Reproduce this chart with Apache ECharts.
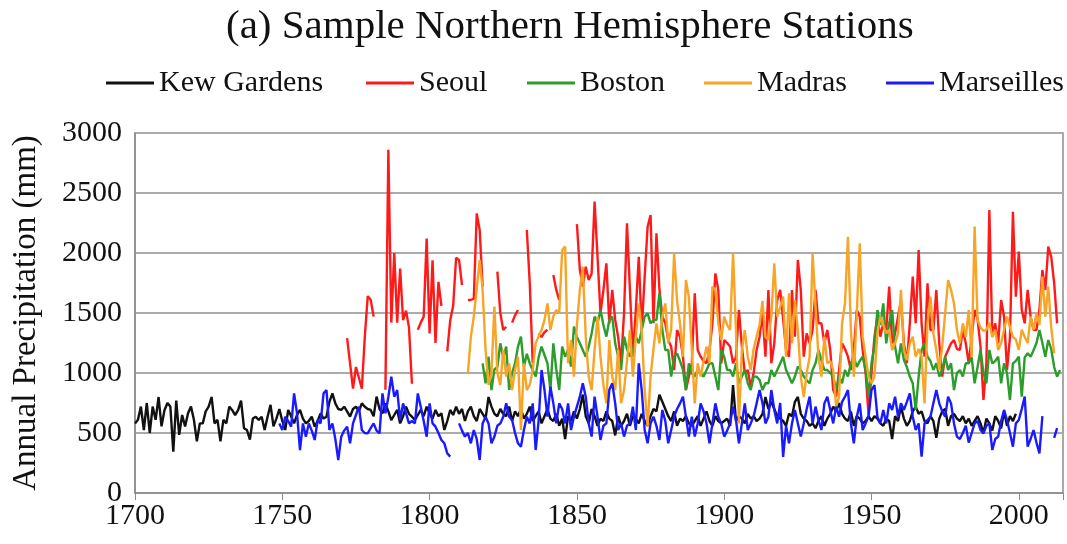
<!DOCTYPE html>
<html><head><meta charset="utf-8">
<script src="https://cdn.jsdelivr.net/npm/echarts@6/dist/echarts.min.js"></script>
<style>html,body{margin:0;padding:0;background:#fff}#c{width:1067px;height:544px}</style>
</head><body><div id="c"></div>
<script>
// ---- Data (annual precipitation, mm), one value per year from the start year ----
const seriesNames = ['Kew Gardens', 'Seoul', 'Boston', 'Madras', 'Marseilles'];
const xTicks = [1700, 1750, 1800, 1850, 1900, 1950, 2000];
const yTicks = [0, 500, 1000, 1500, 2000, 2500, 3000];

const kewStart = 1700;
const kew = [
580,610,720,525,750,500,720,610,800,555,
690,750,720,345,770,485,650,555,665,720,
610,430,580,580,680,720,800,580,610,430,
610,580,720,690,650,690,770,540,525,445,
620,635,610,635,525,635,735,555,620,700,
600,525,692,640,580,650,692,620,580,600,
636,553,600,664,620,636,760,830,747,700,
692,719,680,636,700,719,680,747,719,700,
692,640,803,700,664,747,680,608,650,692,
580,640,719,660,636,608,650,692,640,719,
664,620,692,640,664,525,600,692,650,719,
660,700,600,680,720,640,600,700,660,620,
800,720,660,640,700,660,640,720,600,680,
640,700,620,660,720,600,640,680,580,640,
700,620,600,660,560,620,450,640,600,680,
620,700,820,640,580,700,640,560,620,600,
680,620,600,480,640,560,600,660,560,640,
620,580,660,600,560,640,700,680,820,760,
700,640,600,680,560,620,600,640,580,560,
600,640,560,620,680,600,560,640,600,580,
600,620,560,900,600,640,620,580,660,620,
640,600,620,660,800,700,760,700,640,620,
600,560,660,640,760,800,660,620,600,560,
580,540,600,640,560,620,660,720,680,750,
660,620,600,680,560,640,620,580,600,640,
600,640,620,580,560,620,600,450,640,600,
720,620,560,600,680,720,660,680,600,580,
640,600,460,620,680,700,560,640,660,620,
600,640,580,620,560,600,640,580,500,620,
580,520,640,600,540,680,560,640,600,660
];

const seoulStart = 1772;
const seoul = [
1290,1080,870,1050,960,870,1300,1640,
1610,1470,null,null,null,860,2860,1420,2000,1420,
1870,1440,1520,1380,910,null,1360,1420,1470,2120,
1330,1940,1250,1760,1560,null,1180,1440,1560,1960,
1942,1733,null,1608,1608,1620,2330,2192,1720,null,
null,null,null,1845,1500,1358,1386,null,1420,1480,
1525,null,null,2192,1747,1081,null,1330,1300,1340,
1360,null,1817,1692,1608,null,null,null,null,null,
2240,1860,1720,1886,1775,1830,2428,1969,1497,1692,
1914,1414,1692,1442,1300,1081,1500,2247,1692,1136,
1525,1969,1358,1800,2219,2317,1414,2164,1700,1470,
1414,1275,1220,1025,1358,1300,1136,858,970,1081,
1664,1192,1136,1100,1081,1192,1414,1830,1692,1081,
1275,1250,1220,1081,1136,1525,1220,1000,1025,886,
1000,1192,1300,1500,1136,1692,1081,1247,1608,1692,
1450,1192,1136,1692,1303,1942,1692,1136,1330,1247,
1358,1692,1414,1414,1247,1358,1192,858,803,1025,
1247,1200,1136,1025,1192,1525,1470,1192,1000,650,
1000,1300,1469,1303,1414,1358,1720,1247,1330,1470,
1600,1247,1081,1414,1803,1414,2025,1414,1136,1747,
1358,1358,1692,1247,970,1136,1192,1247,1275,1200,
1192,1358,1247,1081,1300,1525,1450,1220,775,1081,
2358,1303,1414,1247,1608,1469,1025,1300,2344,1636,
2011,1525,1414,1692,1469,1360,1358,1525,1858,1692,
2053,1970,1750,1414
];

const bostonStart = 1818;
const boston = [
1080,914,
1136,858,1030,1050,1247,1130,1220,858,1000,1080,
1220,1303,1050,1160,1080,1025,970,1130,1220,1150,
1080,858,1247,1030,858,1220,1136,1192,1053,1386,
1300,1247,1192,1136,1220,1330,1470,1414,1525,1400,
1303,1442,1470,1247,1136,1025,1303,1200,1136,1192,
1303,1247,1358,1470,1497,1414,1442,1442,1664,1358,
1192,1192,970,1136,1164,1100,1025,858,1081,997,
970,1025,997,970,1025,1081,1081,970,858,1192,
1136,1025,1025,970,1081,914,970,1025,914,858,
970,970,942,858,914,914,1025,970,1025,1080,
1136,1025,970,914,970,1053,1025,970,940,914,
1025,1081,1192,1108,1025,1025,1000,970,858,970,
914,1025,970,1081,1136,1050,1100,1136,1025,803,
1081,1220,1525,1400,1580,1247,1414,1525,1220,1081,
1247,1108,1050,970,914,692,970,1192,1247,1136,
1100,1025,1081,970,1025,1136,1025,1081,858,1000,
1025,970,1081,1081,1130,914,1050,1192,1000,914,
1192,1080,1100,1136,914,1080,1000,775,1080,1100,
1136,803,1130,1164,1136,1190,1250,1358,1250,1136,
1275,1200,1050,970,1025
];

const madrasStart = 1813;
const madras = [
1000,1300,1470,1700,1942,1692,1192,
900,1000,1553,1000,900,1192,970,1081,858,1025,
1136,525,1081,858,900,1025,1247,1303,1358,1442,
1580,1358,1470,1525,1500,2025,2053,1081,1275,970,
1400,1692,1886,1303,970,858,1192,1470,1136,900,
747,1275,970,858,1192,747,858,1100,1358,970,
1303,1580,1358,858,553,970,1200,1414,1247,1470,
1580,1247,1358,2000,1600,1414,1136,1775,1636,1192,
747,1081,970,1100,1220,1081,1720,1692,1414,1275,
1470,1400,1358,2000,1358,580,1192,1358,1136,1025,
1200,1303,1400,1600,1300,1275,1470,1914,1470,1550,
1636,1136,1664,1247,1608,1358,970,800,1000,1136,
2000,1553,1136,970,1303,1081,1100,1025,720,803,
1414,1580,2136,1358,970,1500,2081,1303,1136,970,
914,970,1330,1470,1400,1330,1358,1192,1247,1330,
1692,1192,1108,1247,1303,1136,1200,1136,747,1414,
1636,1330,1192,1025,1220,1500,1775,1692,1580,1358,
1247,1414,1300,1525,1136,2220,1442,1380,1350,1360,
1420,1300,1360,1192,1250,1360,1470,1380,1300,1280,
1192,1360,1300,1250,1470,1360,1500,1400,1803,1470,
1720,1380,1164
];

const marseillesStart = 1749;
const marseilles = [
580,
525,636,600,553,830,664,358,580,469,580,
520,442,608,580,830,858,525,580,450,275,
469,520,553,414,580,650,719,525,500,497,
540,580,520,497,830,664,800,969,803,858,
608,747,664,580,600,580,830,719,600,469,
747,580,553,500,442,414,330,303,null,null,
580,520,470,500,414,525,450,275,580,636,
580,414,470,560,580,636,747,636,608,500,
414,386,525,636,580,747,358,600,1025,858,
636,886,747,580,747,700,580,747,525,636,
720,803,914,803,580,470,803,636,442,560,
580,858,914,747,525,580,470,560,580,720,
525,1081,858,525,414,580,636,560,442,692,
600,414,525,636,700,747,803,636,470,636,
470,580,747,680,580,414,580,747,636,580,
470,520,580,720,608,414,580,747,525,580,
640,747,858,747,580,636,858,692,580,750,
300,560,414,580,692,580,470,580,700,803,
580,720,608,525,747,803,692,580,720,636,
760,803,858,580,414,636,747,525,580,640,
858,900,636,580,692,580,747,692,803,636,
747,692,760,830,636,525,580,303,580,608,
636,747,858,747,680,636,803,747,580,470,
450,500,560,420,500,580,600,525,497,560,
580,358,450,470,600,692,608,500,386,580,
608,700,803,386,450,525,420,330,640,null,
null,null,460,540
];

// ---- Build chart ----
function toPairs(start, arr) { return arr.map((v, i) => [start + i, v]); }
const colors = ['#111111', '#ff1a1a', '#2a9d2a', '#f8a426', '#1a1aff'];
const seriesData = [
  toPairs(kewStart, kew),
  toPairs(seoulStart, seoul),
  toPairs(bostonStart, boston),
  toPairs(madrasStart, madras),
  toPairs(marseillesStart, marseilles)
];
const FONT = "'Liberation Serif', 'Times New Roman', serif";
const legendLefts = [106, 366, 527, 704, 886];

const chart = echarts.init(document.getElementById('c'), null, {renderer: 'canvas'});
chart.setOption({
  animation: false,
  backgroundColor: '#ffffff',
  textStyle: {fontFamily: FONT, color: '#000'},
  title: {
    text: '(a) Sample Northern Hemisphere Stations',
    left: 226, top: 7, padding: 0,
    textStyle: {fontFamily: FONT, fontSize: 41, fontWeight: 'normal', color: '#111'}
  },
  legend: seriesNames.map((n, i) => ({
    data: [n], left: legendLefts[i], top: 68, padding: 0,
    icon: 'rect', itemWidth: 48, itemHeight: 3, itemGap: 0,
    textStyle: {fontFamily: FONT, fontSize: 30, color: '#111', padding: [0, 0, 0, 0]}
  })),
  grid: {
    left: 135, right: 4, top: 133, bottom: 51,
    show: true, borderColor: '#8c8c8c', borderWidth: 1.5
  },
  xAxis: {
    type: 'value', min: 1700, max: 2015, interval: 50,
    axisLine: {show: true, lineStyle: {color: '#8c8c8c', width: 1.5}},
    axisTick: {show: true, length: 7, lineStyle: {color: '#8c8c8c'}},
    splitLine: {show: false},
    axisLabel: {
      fontFamily: FONT, fontSize: 30, color: '#111', margin: 8,
      formatter: v => (xTicks.indexOf(v) >= 0 ? String(v) : '')
    }
  },
  yAxis: {
    type: 'value', min: 0, max: 3000, interval: 500,
    name: 'Annual Precipitation (mm)', nameLocation: 'middle', nameGap: 92, nameRotate: 90,
    nameTextStyle: {fontFamily: FONT, fontSize: 33, color: '#111'},
    axisLine: {show: true, lineStyle: {color: '#8c8c8c', width: 1.5}},
    axisTick: {show: false},
    splitLine: {show: true, lineStyle: {color: '#ababab', width: 2}},
    axisLabel: {
      fontFamily: FONT, fontSize: 30, color: '#111', margin: 13,
      formatter: v => (yTicks.indexOf(v) >= 0 ? String(v) : '')
    }
  },
  series: seriesNames.map((n, i) => ({
    name: n, type: 'line', data: seriesData[i],
    showSymbol: false, symbol: 'none', connectNulls: false,
    color: colors[i],
    lineStyle: {color: colors[i], width: 2.4},
    z: 2 + i
  }))
});
</script>
</body></html>
